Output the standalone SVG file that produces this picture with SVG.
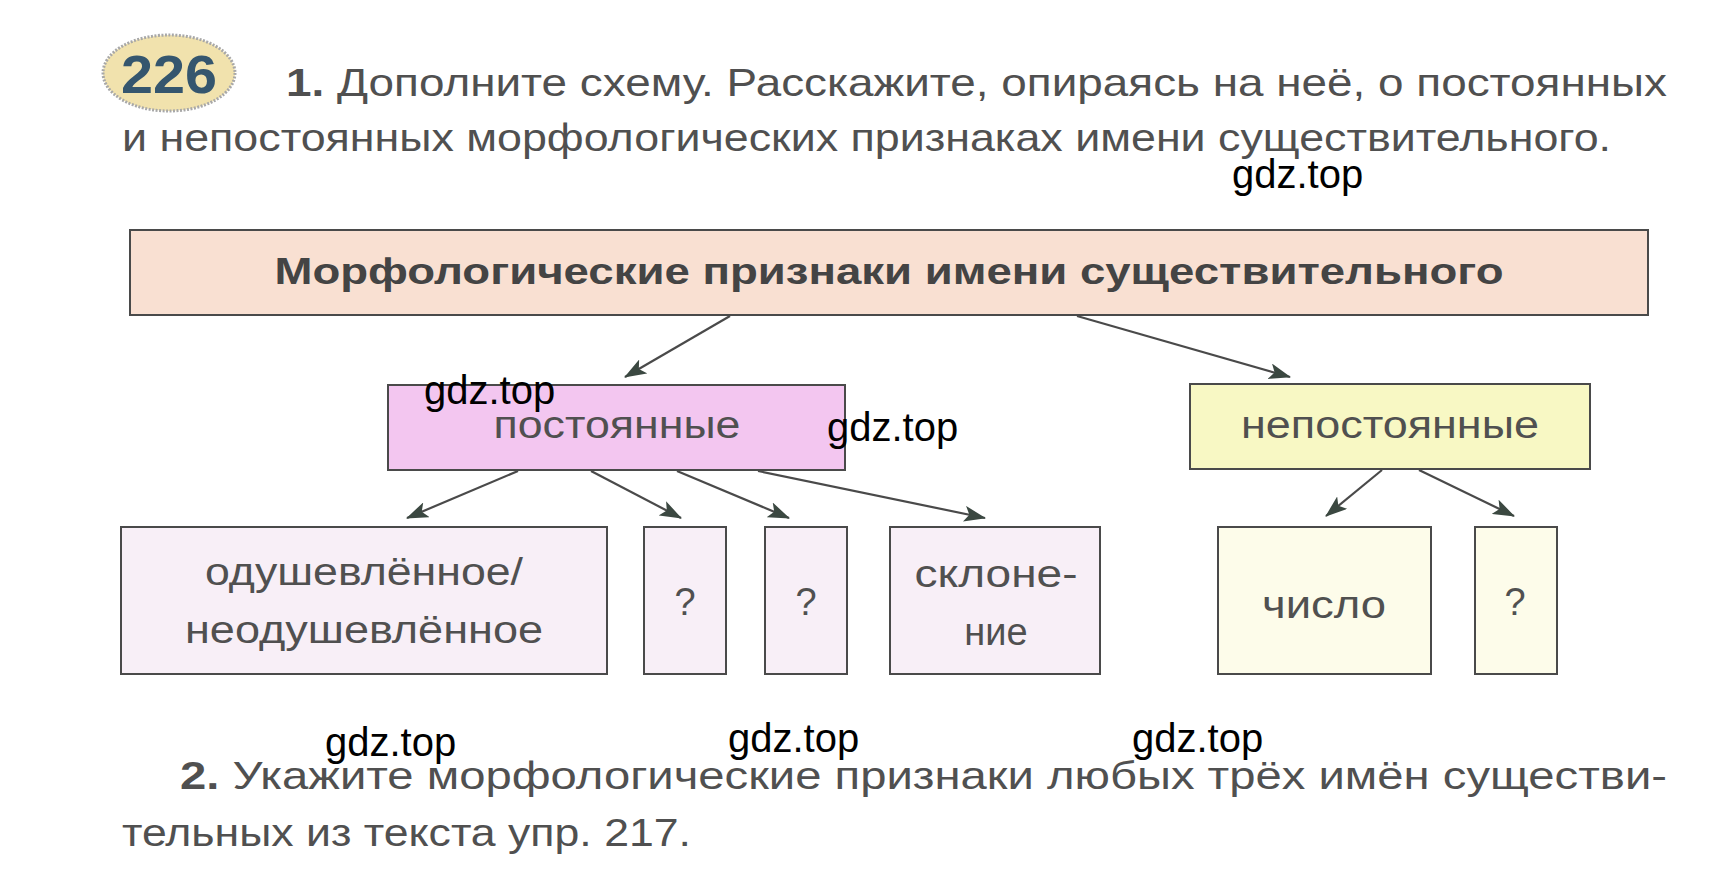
<svg xmlns="http://www.w3.org/2000/svg" width="1714" height="879" viewBox="0 0 1714 879">
<style>
text{font-family:"Liberation Sans",Arial,sans-serif;fill:#505050}
.body{font-size:39px}
.node{font-size:38px;text-anchor:middle}
.wm{font-size:40px;fill:#000}
.box{stroke:#4a4a4a;stroke-width:2}
.conn line{stroke:#4a4a4a;stroke-width:2.2;marker-end:url(#ah)}
</style>
<defs>
<marker id="ah" viewBox="0 0 22 16" refX="21" refY="8" markerWidth="22" markerHeight="16" markerUnits="userSpaceOnUse" orient="auto">
<path d="M0,0 L22,8 L0,16 L5,8 Z" fill="#3b4841"/>
</marker>
</defs>
<rect width="1714" height="879" fill="#fff"/>
<g id="badge">
<ellipse cx="169" cy="73" rx="66" ry="38" fill="#f1e2ad" stroke="#a8a8a8" stroke-width="3" stroke-dasharray="2 1.5"/>
<text x="169" y="93" text-anchor="middle" style="font-size:54px;font-weight:bold;fill:#35566e" textLength="96" lengthAdjust="spacingAndGlyphs">226</text>
</g>
<g id="task1">
<text class="body" x="286" y="96" textLength="1381" lengthAdjust="spacingAndGlyphs"><tspan font-weight="bold">1.</tspan> Дополните схему. Расскажите, опираясь на неё, о постоянных</text>
<text class="body" x="122" y="151" textLength="1489" lengthAdjust="spacingAndGlyphs">и непостоянных морфологических признаках имени существительного.</text>
</g>
<g id="root">
<rect class="box" x="130" y="230" width="1518" height="85" fill="#f9e0d2"/>
<text x="889" y="284" text-anchor="middle" style="font-size:37px;font-weight:bold;fill:#444" textLength="1229" lengthAdjust="spacingAndGlyphs">Морфологические признаки имени существительного</text>
</g>
<g id="postoyannye">
<rect class="box" x="388" y="385" width="457" height="85" fill="#f3c6f0"/>
<text class="node" x="617" y="438" textLength="247" lengthAdjust="spacingAndGlyphs">постоянные</text>
</g>
<g id="nepostoyannye">
<rect class="box" x="1190" y="384" width="400" height="85" fill="#f8f8c4"/>
<text class="node" x="1390" y="438" textLength="298" lengthAdjust="spacingAndGlyphs">непостоянные</text>
</g>
<g id="odush">
<rect class="box" x="121" y="527" width="486" height="147" fill="#f8eff7"/>
<text class="node" x="364" y="585" textLength="318" lengthAdjust="spacingAndGlyphs">одушевлённое/</text>
<text class="node" x="364" y="643" textLength="358" lengthAdjust="spacingAndGlyphs">неодушевлённое</text>
</g>
<g id="q1">
<rect class="box" x="644" y="527" width="82" height="147" fill="#f8eff7"/>
<text class="node" x="685" y="615">?</text>
</g>
<g id="q2">
<rect class="box" x="765" y="527" width="82" height="147" fill="#f8eff7"/>
<text class="node" x="806" y="615">?</text>
</g>
<g id="sklonenie">
<rect class="box" x="890" y="527" width="210" height="147" fill="#f8eff7"/>
<text class="node" x="996" y="587" textLength="163" lengthAdjust="spacingAndGlyphs">склоне-</text>
<text class="node" x="996" y="645">ние</text>
</g>
<g id="chislo">
<rect class="box" x="1218" y="527" width="213" height="147" fill="#fdfcea"/>
<text class="node" x="1324" y="618" textLength="124" lengthAdjust="spacingAndGlyphs">число</text>
</g>
<g id="q3">
<rect class="box" x="1475" y="527" width="82" height="147" fill="#fdfcea"/>
<text class="node" x="1515" y="615">?</text>
</g>
<g id="connectors" class="conn">
<line x1="730" y1="316" x2="625" y2="377"/>
<line x1="1077" y1="316" x2="1290" y2="377"/>
<line x1="518" y1="471" x2="407" y2="518"/>
<line x1="591" y1="471" x2="681" y2="518"/>
<line x1="677" y1="471" x2="789" y2="518"/>
<line x1="758" y1="471" x2="985" y2="518"/>
<line x1="1382" y1="470" x2="1326" y2="516"/>
<line x1="1419" y1="470" x2="1514" y2="516"/>
</g>
<g id="task2">
<text class="body" x="180" y="789" textLength="1487" lengthAdjust="spacingAndGlyphs"><tspan font-weight="bold">2.</tspan> Укажите морфологические признаки любых трёх имён существи-</text>
<text class="body" x="122" y="846" textLength="569" lengthAdjust="spacingAndGlyphs">тельных из текста упр. 217.</text>
</g>
<g id="watermarks">
<text class="wm" x="1232" y="188">gdz.top</text>
<text class="wm" x="424" y="404">gdz.top</text>
<text class="wm" x="827" y="441">gdz.top</text>
<text class="wm" x="325" y="756">gdz.top</text>
<text class="wm" x="728" y="752">gdz.top</text>
<text class="wm" x="1132" y="752">gdz.top</text>
</g>
</svg>
